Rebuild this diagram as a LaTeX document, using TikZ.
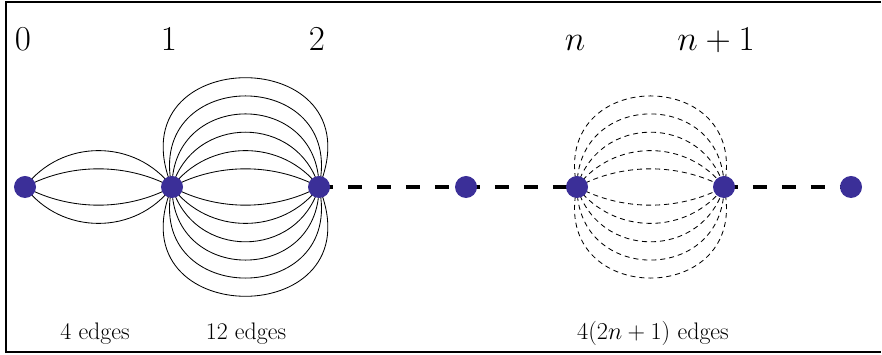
\documentclass[tikz,border=0pt]{standalone}
\usepackage{amsmath}
\usetikzlibrary{backgrounds}
\definecolor{vblue}{RGB}{59,47,152}

\begin{document}
\begin{tikzpicture}[x=0.025cm,y=0.025cm,
    vertex/.style={circle, fill=vblue, inner sep=0pt, minimum size=0.55cm},
    toplbl/.style={anchor=base, font=\fontsize{25}{30}\selectfont},
    botlbl/.style={anchor=base, font=\fontsize{17}{20}\selectfont},
    arcedge/.style={line width=0.6pt},
    dashedge/.style={line width=0.6pt, dash pattern=on 3.6pt off 2.8pt},
    chain/.style={line width=2.2pt, dash pattern=on 10pt off 10.6pt}]
    \useasboundingbox (0,0) rectangle (882,355);

    % Frame (open on the right)
    \draw[line width=1.4pt] (881,353) -- (6,353) -- (6,3) -- (881,3);

    % Vertices
    \node[vertex] (v0) at (25,168) {};
    \node[vertex] (v1) at (172,168) {};
    \node[vertex] (v2) at (319,168) {};
    \node[vertex] (v3) at (466,168) {};
    \node[vertex] (vn) at (577,168) {};
    \node[vertex] (vm) at (724,168) {};
    \node[vertex] (vl) at (851,168) {};

    % Level labels
    \node[toplbl] (l0) at (23,304) {$0$};
    \node[toplbl] (l1) at (169,304) {$1$};
    \node[toplbl] (l2) at (317,304) {$2$};
    \node[toplbl] (ln) at (575,304) {$n$};
    \node[toplbl] (lm) at (716,304) {$n+1$};

    % Edge counts
    \node[botlbl] (c0) at (95,15) {4 edges};
    \node[botlbl] (c1) at (246,15) {12 edges};
    \node[botlbl] (cn) at (653,15) {$4(2n+1)$ edges};

    \begin{scope}[on background layer]
        % 4 edges between 0 and 1
        \foreach \a/\l in {28/0.90, 53/1.06}
            \draw[arcedge] (v0.center) to[out=\a, in=180-\a, looseness=\l] (v1.center)
                           (v0.center) to[out=-\a, in=180+\a, looseness=\l] (v1.center);

        % 12 edges between 1 and 2
        \foreach \a/\l in {28/0.90, 53/1.06, 73.5/1.33, 90/1.70, 102.5/2.17, 112.4/2.75}
            \draw[arcedge] (v1.center) to[out=\a, in=180-\a, looseness=\l] (v2.center)
                           (v1.center) to[out=-\a, in=180+\a, looseness=\l] (v2.center);

        % edges between n and n+1
        \foreach \a/\l in {28/0.90, 53/1.06, 73.5/1.33, 90/1.70, 102.5/2.17}
            \draw[dashedge] (vn.center) to[out=\a, in=180-\a, looseness=\l] (vm.center)
                            (vn.center) to[out=-\a, in=180+\a, looseness=\l] (vm.center);

        % Chain continuing
        \draw[chain] (v2.center) -- (v3.center);
        \draw[chain] (v3.center) -- (vn.center);
        \draw[chain] (vm.center) -- (vl.center);
    \end{scope}
\end{tikzpicture}
\end{document}
